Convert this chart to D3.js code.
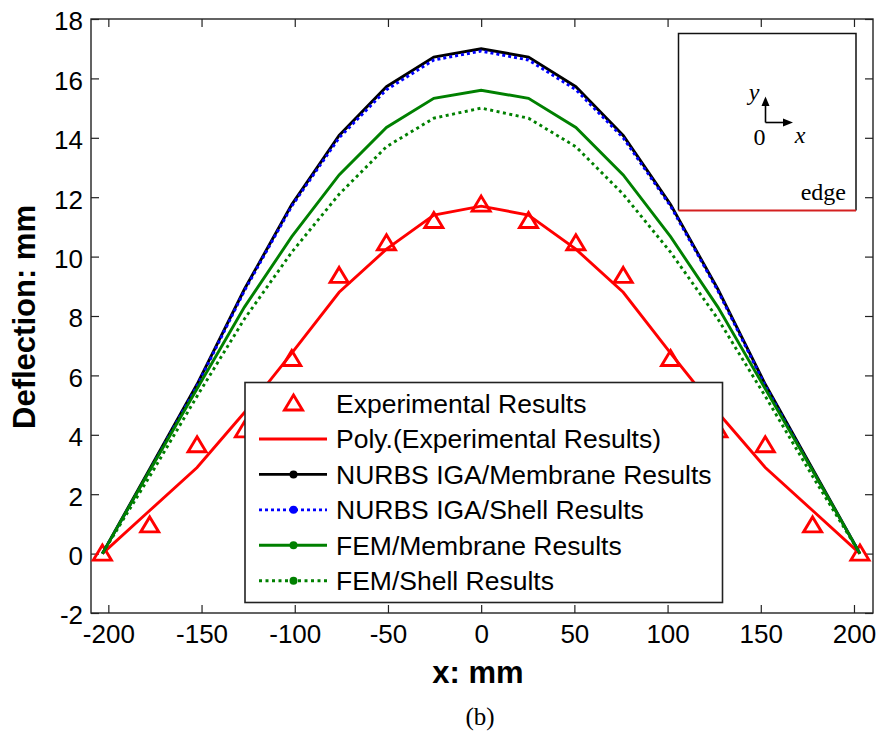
<!DOCTYPE html>
<html>
<head>
<meta charset="utf-8">
<script src="https://cdn.jsdelivr.net/npm/d3@7"></script>
<style>
  html, body { margin: 0; padding: 0; background: #fff; }
  svg { display: block; }
  text { font-family: "Liberation Sans", Arial, sans-serif; fill: #000; }
  .serif { font-family: "Liberation Serif", "Times New Roman", serif; }
</style>
</head>
<body>
<svg id="chart" width="881" height="740"></svg>
<script>
// Positions along the plate (mm), spaced 25.4 mm apart
const xPositions = [-203.2, -177.8, -152.4, -127, -101.6, -76.2, -50.8, -25.4, 0,
                    25.4, 50.8, 76.2, 101.6, 127, 152.4, 177.8, 203.2];

// Deflection values (mm)
const experimental = [0, 0.95, 3.65, 4.15, 6.55, 9.35, 10.45, 11.2, 11.75,
                      11.2, 10.45, 9.35, 6.55, 4.15, 3.65, 0.95, 0];
const polyFit      = [0, 1.45, 2.9, 4.75, 6.75, 8.8, 10.25, 11.4, 11.7,
                      11.4, 10.25, 8.8, 6.75, 4.75, 2.9, 1.45, 0];
const igaMembrane  = [0, 2.85, 5.7, 8.9, 11.75, 14.08, 15.72, 16.72, 17.0,
                      16.72, 15.72, 14.08, 11.75, 8.9, 5.7, 2.85, 0];
const igaShell     = [0, 2.8, 5.65, 8.85, 11.7, 14.0, 15.62, 16.62, 16.92,
                      16.62, 15.62, 14.0, 11.7, 8.85, 5.65, 2.8, 0];
const femMembrane  = [0, 2.8, 5.55, 8.3, 10.67, 12.75, 14.35, 15.33, 15.6,
                      15.33, 14.35, 12.75, 10.67, 8.3, 5.55, 2.8, 0];
const femShell     = [0, 2.6, 5.3, 7.9, 10.15, 12.1, 13.7, 14.66, 15.0,
                      14.66, 13.7, 12.1, 10.15, 7.9, 5.3, 2.6, 0];

const xTicks = [-200, -150, -100, -50, 0, 50, 100, 150, 200];
const yTicks = [-2, 0, 2, 4, 6, 8, 10, 12, 14, 16, 18];

const legendLabels = [
  "Experimental Results",
  "Poly.(Experimental Results)",
  "NURBS IGA/Membrane Results",
  "NURBS IGA/Shell Results",
  "FEM/Membrane Results",
  "FEM/Shell Results"
];

const svg = d3.select("#chart");
const plotLeft = 91, plotRight = 873, plotTop = 19, plotBottom = 613;

const x = d3.scaleLinear().domain([-209.3, 210.2]).range([plotLeft, plotRight]);
const y = d3.scaleLinear().domain([-2, 18]).range([plotBottom, plotTop]);

// Plain hyphen-minus tick labels
const plain = d => String(d);

// Axes with inward ticks on all four sides
const fontSize = 26;
const gBottom = svg.append("g").attr("transform", `translate(0,${plotBottom})`)
  .call(d3.axisBottom(x).tickValues(xTicks).tickFormat(plain).tickSize(-8).tickPadding(12));
const gLeft = svg.append("g").attr("transform", `translate(${plotLeft},0)`)
  .call(d3.axisLeft(y).tickValues(yTicks).tickFormat(plain).tickSize(-8).tickPadding(8));
const gTop = svg.append("g").attr("transform", `translate(0,${plotTop})`)
  .call(d3.axisTop(x).tickValues(xTicks).tickSize(-8).tickFormat(""));
const gRight = svg.append("g").attr("transform", `translate(${plotRight},0)`)
  .call(d3.axisRight(y).tickValues(yTicks).tickSize(-8).tickFormat(""));

[gBottom, gLeft, gTop, gRight].forEach(g => {
  g.select(".domain").remove();
  g.selectAll(".tick line").attr("stroke", "#222").attr("stroke-width", 1.2);
  g.selectAll("text").attr("font-size", fontSize).attr("font-family", "Liberation Sans, Arial, sans-serif").attr("fill", "#000");
});
gLeft.selectAll("text").attr("dy", "0.42em");

// Plot frame
svg.append("rect")
  .attr("x", plotLeft).attr("y", plotTop)
  .attr("width", plotRight - plotLeft).attr("height", plotBottom - plotTop)
  .attr("fill", "none").attr("stroke", "#222").attr("stroke-width", 1.4);

// Series
const pts = vals => vals.map((v, i) => [xPositions[i], v]);
const line = d3.line().x(d => x(d[0])).y(d => y(d[1]));
const plot = svg.append("g");
const lw = 2.9;

const triPath = "M0,-8.5L9,6.5L-9,6.5Z";

plot.selectAll("path.exp").data(pts(experimental)).join("path")
  .attr("class", "exp")
  .attr("d", triPath)
  .attr("transform", d => `translate(${x(d[0])},${y(d[1])})`)
  .attr("fill", "none").attr("stroke", "#ff0000").attr("stroke-width", lw);

const series = [
  { data: polyFit,     color: "#ff0000", dash: null },
  { data: igaMembrane, color: "#000000", dash: null },
  { data: igaShell,    color: "#0000ff", dash: "3,3" },
  { data: femMembrane, color: "#008000", dash: null },
  { data: femShell,    color: "#008000", dash: "3,3.5" }
];
series.forEach(s => {
  plot.append("path")
    .attr("d", line(pts(s.data)))
    .attr("fill", "none")
    .attr("stroke", s.color)
    .attr("stroke-width", lw)
    .attr("stroke-dasharray", s.dash);
});

// Legend
const lg = svg.append("g");
lg.append("rect")
  .attr("x", 245).attr("y", 382.5).attr("width", 477.5).attr("height", 220)
  .attr("fill", "#fff").attr("stroke", "#222").attr("stroke-width", 1.6);
const rowY = i => 403.5 + i * 35.45;
const legendStyles = [
  { color: "#ff0000", marker: "tri" },
  { color: "#ff0000", line: true, dash: null },
  { color: "#000000", line: true, dash: null, dot: true },
  { color: "#0000ff", line: true, dash: "3,3", dot: true },
  { color: "#008000", line: true, dash: null, dot: true },
  { color: "#008000", line: true, dash: "3,3.5", dot: true }
];
legendLabels.forEach((label, i) => {
  const st = legendStyles[i];
  const cy = rowY(i);
  if (st.marker === "tri") {
    lg.append("path").attr("d", triPath)
      .attr("transform", `translate(293.5,${cy})`)
      .attr("fill", "none").attr("stroke", st.color).attr("stroke-width", lw);
  }
  if (st.line) {
    lg.append("line").attr("x1", 259).attr("x2", 327).attr("y1", cy).attr("y2", cy)
      .attr("stroke", st.color).attr("stroke-width", lw).attr("stroke-dasharray", st.dash);
  }
  if (st.dot) {
    lg.append("circle").attr("cx", 293.5).attr("cy", cy).attr("r", 4).attr("fill", st.color);
  }
  lg.append("text").attr("x", 336).attr("y", cy + 9.3)
    .attr("font-size", 26.5).text(label);
});

// Inset sketch of the plate coordinate frame
const inset = svg.append("g");
const ix0 = 678.5, iy0 = 33.5, ix1 = 856, iy1 = 210.5;
inset.append("rect").attr("x", ix0).attr("y", iy0).attr("width", ix1 - ix0).attr("height", iy1 - iy0)
  .attr("fill", "#fff").attr("stroke", "none");
inset.append("path")
  .attr("d", `M${ix0},${iy1}V${iy0}H${ix1}V${iy1}`)
  .attr("fill", "none").attr("stroke", "#111").attr("stroke-width", 1.5);
inset.append("line").attr("x1", ix0).attr("x2", ix1).attr("y1", iy1).attr("y2", iy1)
  .attr("stroke", "#d42020").attr("stroke-width", 2);
const ox = 765.5, oy = 122.5;
inset.append("line").attr("x1", ox).attr("y1", oy).attr("x2", ox).attr("y2", 104)
  .attr("stroke", "#000").attr("stroke-width", 1.6);
inset.append("path").attr("d", `M${ox},96.5L${ox - 4},106L${ox + 4},106Z`).attr("fill", "#000");
inset.append("line").attr("x1", ox).attr("y1", oy).attr("x2", 785).attr("y2", oy)
  .attr("stroke", "#000").attr("stroke-width", 1.6);
inset.append("path").attr("d", `M793,${oy}L783,${oy - 4}L783,${oy + 4}Z`).attr("fill", "#000");
inset.append("text").attr("class", "serif").attr("x", 754).attr("y", 100)
  .attr("text-anchor", "middle").attr("font-size", 24).attr("font-style", "italic").text("y");
inset.append("text").attr("class", "serif").attr("x", 759.5).attr("y", 144.5)
  .attr("text-anchor", "middle").attr("font-size", 24).text("0");
inset.append("text").attr("class", "serif").attr("x", 800).attr("y", 143)
  .attr("text-anchor", "middle").attr("font-size", 24).attr("font-style", "italic").text("x");
inset.append("text").attr("class", "serif").attr("x", 846).attr("y", 200)
  .attr("text-anchor", "end").attr("font-size", 24).text("edge");

// Axis titles and caption
svg.append("text")
  .attr("transform", "translate(35,317) rotate(-90)")
  .attr("text-anchor", "middle").attr("font-size", 31).attr("font-weight", "bold")
  .text("Deflection: mm");
svg.append("text")
  .attr("x", 478).attr("y", 683)
  .attr("text-anchor", "middle").attr("font-size", 31).attr("font-weight", "bold")
  .text("x: mm");
svg.append("text").attr("class", "serif")
  .attr("x", 480).attr("y", 725)
  .attr("text-anchor", "middle").attr("font-size", 25)
  .text("(b)");
</script>
</body>
</html>
